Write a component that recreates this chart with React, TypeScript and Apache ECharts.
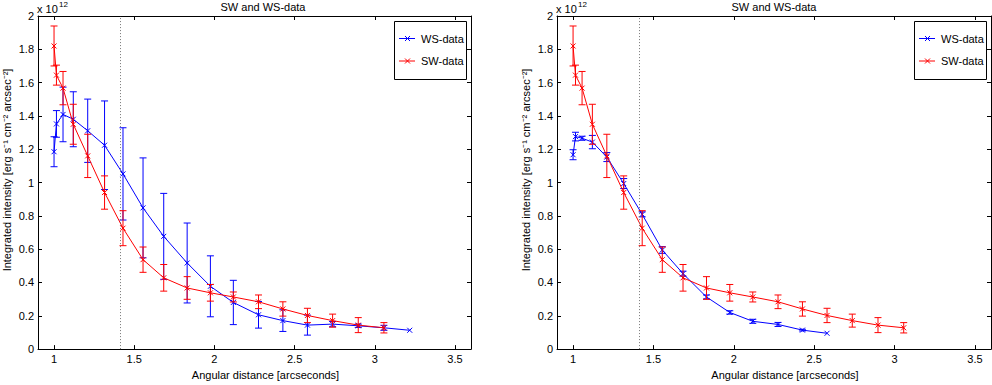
import React, { useEffect, useRef } from "react";
import * as echarts from "echarts";

// ---- data ----
const angularDistance = [1.0, 1.015, 1.056, 1.12, 1.21, 1.315, 1.43, 1.555, 1.684, 1.83, 1.975, 2.118, 2.275, 2.427, 2.58, 2.737, 2.897, 3.057, 3.218];

const swIntensity = [1.82, 1.645, 1.567, 1.35, 1.16, 0.94, 0.726, 0.537, 0.428, 0.367, 0.338, 0.313, 0.284, 0.241, 0.202, 0.171, 0.144, 0.128];
const swError = [0.12, 0.06, 0.1, 0.12, 0.13, 0.1, 0.105, 0.076, 0.08, 0.068, 0.05, 0.03, 0.041, 0.043, 0.043, 0.039, 0.045, 0.031];

const wsLeftIntensity = [1.185, 1.352, 1.409, 1.38, 1.311, 1.224, 1.052, 0.848, 0.677, 0.517, 0.377, 0.28, 0.206, 0.171, 0.144, 0.15, 0.14, 0.128, 0.113];
const wsLeftError = [0.09, 0.08, 0.164, 0.165, 0.19, 0.266, 0.277, 0.3, 0.258, 0.24, 0.183, 0.133, 0.08, 0.065, 0.06, 0.016, 0.01, 0.015, 0];

const wsRightIntensity = [1.167, 1.276, 1.266, 1.243, 1.153, 0.994, 0.809, 0.595, 0.453, 0.313, 0.22, 0.167, 0.148, 0.114, 0.095];
const wsRightError = [0.03, 0.026, 0.012, 0.04, 0.027, 0.03, 0.015, 0.02, 0.015, 0.012, 0.01, 0.012, 0.012, 0.005, 0];

const xTicks = [1, 1.5, 2, 2.5, 3, 3.5];
const separationLine = Math.SQRT2;

const titleText = "SW and WS-data";
const xLabelText = "Angular distance [arcseconds]";
const yLabelText = "Integrated intensity [erg s\u207B\u00B9 cm\u207B\u00B2 arcsec\u207B\u00B2]";
const legendNames = ["WS-data", "SW-data"];

// ---- styling ----
const BLUE = "#0000ff";
const RED = "#ff0000";
const FONT = "'Liberation Sans', Arial, Helvetica, sans-serif";

const fmt = (v: number) => String(+Number(v).toFixed(2));

const pairs = (xs: number[], ys: number[]) => ys.map((y, i) => [xs[i], y]);
const errData = (xs: number[], ys: number[], es: number[]) =>
  ys.map((y, i) => [xs[i], y, y - es[i], y + es[i]]);

const makeErrorRenderer = (color: string) => (params: any, api: any) => {
  const x = api.value(0);
  const y = api.value(1);
  const lo = api.value(2);
  const hi = api.value(3);
  const c = api.coord([x, y]);
  const st = { stroke: color, lineWidth: 1, fill: null };
  const children: any[] = [];
  if (hi > lo) {
    const pl = api.coord([x, lo]);
    const ph = api.coord([x, hi]);
    const cw = 3.5;
    children.push({ type: "line", shape: { x1: pl[0], y1: pl[1], x2: ph[0], y2: ph[1] }, style: st });
    children.push({ type: "line", shape: { x1: pl[0] - cw, y1: pl[1], x2: pl[0] + cw, y2: pl[1] }, style: st });
    children.push({ type: "line", shape: { x1: ph[0] - cw, y1: ph[1], x2: ph[0] + cw, y2: ph[1] }, style: st });
  }
  const m = 2.5;
  children.push({ type: "line", shape: { x1: c[0] - m, y1: c[1] - m, x2: c[0] + m, y2: c[1] + m }, style: st });
  children.push({ type: "line", shape: { x1: c[0] - m, y1: c[1] + m, x2: c[0] + m, y2: c[1] - m }, style: st });
  return { type: "group", children };
};

const GRID_TOP = 16;
const GRID_H = 342;

const panels = [
  { left: 38, width: 433, ws: wsLeftIntensity, wsErr: wsLeftError, titleX: 263 },
  { left: 557, width: 434, ws: wsRightIntensity, wsErr: wsRightError, titleX: 774 },
];

function buildOption() {
  const grid: any[] = [];
  const xAxis: any[] = [];
  const yAxis: any[] = [];
  const series: any[] = [];
  const graphic: any[] = [];

  panels.forEach((p, i) => {
    grid.push({ left: p.left, top: GRID_TOP, width: p.width, height: GRID_H, containLabel: false });
    const axisLine = { show: true, onZero: false, lineStyle: { color: "#000", width: 1 } };
    const tickStyle = { color: "#000", width: 1 };
    const labelStyle = { color: "#000", fontSize: 11, fontFamily: FONT };
    xAxis.push({
      type: "value", gridIndex: i, position: "bottom", min: 0.9, max: 3.6,
      axisLine,
      axisTick: { show: true, inside: true, length: 4, customValues: xTicks, lineStyle: tickStyle },
      axisLabel: { show: true, customValues: xTicks, margin: 4, formatter: fmt, ...labelStyle },
      splitLine: { show: false },
      name: xLabelText, nameLocation: "middle", nameGap: 13,
      nameTextStyle: { ...labelStyle, padding: [0, 0, 0, 22] },
    });
    xAxis.push({
      type: "value", gridIndex: i, position: "top", min: 0.9, max: 3.6,
      axisLine,
      axisTick: { show: true, inside: true, length: 4, customValues: xTicks, lineStyle: tickStyle },
      axisLabel: { show: false },
      splitLine: { show: false },
    });
    yAxis.push({
      type: "value", gridIndex: i, position: "left", min: 0, max: 2, interval: 0.2,
      axisLine,
      axisTick: { show: true, inside: true, length: 4, lineStyle: tickStyle },
      axisLabel: { show: true, margin: 4, formatter: fmt, ...labelStyle },
      splitLine: { show: false },
    });
    yAxis.push({
      type: "value", gridIndex: i, position: "right", min: 0, max: 2, interval: 0.2,
      axisLine,
      axisTick: { show: true, inside: true, length: 4, lineStyle: tickStyle },
      axisLabel: { show: false },
      splitLine: { show: false },
    });

    const xi = i * 2;
    const yi = i * 2;
    series.push({
      type: "line", name: legendNames[0], xAxisIndex: xi, yAxisIndex: yi,
      data: pairs(angularDistance, p.ws), symbol: "none",
      lineStyle: { color: BLUE, width: 1 }, itemStyle: { color: BLUE }, z: 2,
      markLine: {
        silent: true, symbol: "none", label: { show: false },
        lineStyle: { type: [1, 2], color: "#777", width: 1 },
        data: [{ xAxis: separationLine }],
      },
    });
    series.push({
      type: "custom", xAxisIndex: xi, yAxisIndex: yi,
      data: errData(angularDistance, p.ws, p.wsErr),
      renderItem: makeErrorRenderer(BLUE), z: 3,
    });
    series.push({
      type: "line", name: legendNames[1], xAxisIndex: xi, yAxisIndex: yi,
      data: pairs(angularDistance, swIntensity), symbol: "none",
      lineStyle: { color: RED, width: 1 }, itemStyle: { color: RED }, z: 4,
    });
    series.push({
      type: "custom", xAxisIndex: xi, yAxisIndex: yi,
      data: errData(angularDistance, swIntensity, swError),
      renderItem: makeErrorRenderer(RED), z: 5,
    });

    // title
    graphic.push({
      type: "text", x: p.titleX, y: 6.5,
      style: { text: titleText, fill: "#000", fontSize: 11, fontFamily: FONT, align: "center", verticalAlign: "middle" },
    });
    // x 10^12
    graphic.push({
      type: "text", x: p.left - 1, y: 9,
      style: { text: "x 10", fill: "#000", fontSize: 11, fontFamily: FONT, align: "left", verticalAlign: "middle" },
    });
    graphic.push({
      type: "text", x: p.left + 21, y: 4.5,
      style: { text: "12", fill: "#000", fontSize: 8, fontFamily: FONT, align: "left", verticalAlign: "middle" },
    });
    // y label
    graphic.push({
      type: "text", x: p.left - 31, y: 170, rotation: Math.PI / 2,
      style: { text: yLabelText, fill: "#000", fontSize: 11, fontFamily: FONT, align: "center", verticalAlign: "middle" },
    });
    // legend box
    const bx = p.left + p.width - 77;
    const by = 21;
    graphic.push({
      type: "rect", shape: { x: bx + 0.5, y: by + 0.5, width: 72, height: 58 },
      style: { fill: "#fff", stroke: "#000", lineWidth: 1 }, z: 100,
    });
    [BLUE, RED].forEach((col, k) => {
      const ly = by + 17.5 + k * 22.5;
      const cx = bx + 13.5;
      graphic.push({ type: "line", shape: { x1: bx + 5, y1: ly, x2: bx + 21, y2: ly }, style: { stroke: col, lineWidth: 1 }, z: 101 });
      graphic.push({ type: "line", shape: { x1: cx - 2.5, y1: ly - 2.5, x2: cx + 2.5, y2: ly + 2.5 }, style: { stroke: col, lineWidth: 1 }, z: 101 });
      graphic.push({ type: "line", shape: { x1: cx - 2.5, y1: ly + 2.5, x2: cx + 2.5, y2: ly - 2.5 }, style: { stroke: col, lineWidth: 1 }, z: 101 });
      graphic.push({
        type: "text", x: bx + 27, y: ly, z: 101,
        style: { text: legendNames[k], fill: "#000", fontSize: 11, fontFamily: FONT, align: "left", verticalAlign: "middle" },
      });
    });
  });

  return {
    animation: false,
    backgroundColor: "#fff",
    textStyle: { fontFamily: FONT },
    grid, xAxis, yAxis, series, graphic,
  };
}

export default function App() {
  const ref = useRef<HTMLDivElement>(null);
  useEffect(() => {
    if (!ref.current) return;
    const chart = echarts.init(ref.current, null, { renderer: "svg" });
    chart.setOption(buildOption() as any);
    return () => chart.dispose();
  }, []);
  return (
    <div
      ref={ref}
      style={{ position: "fixed", left: 0, top: 0, width: 992, height: 385, background: "#fff" }}
    />
  );
}
